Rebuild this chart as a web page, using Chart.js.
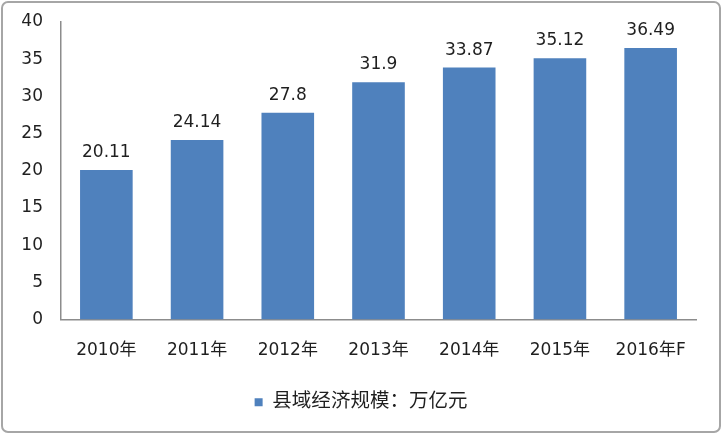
<!DOCTYPE html>
<html><head><meta charset="utf-8">
<script src="https://cdn.jsdelivr.net/npm/chart.js@4/dist/chart.umd.min.js"></script>
<style>
html,body{margin:0;padding:0;background:#fff;}
#wrap{position:relative;width:722px;height:434px;}
#frame{position:absolute;left:1px;top:1px;width:716px;height:428px;border:2px solid #a6a6a6;border-radius:7px;pointer-events:none;}
canvas{position:absolute;left:0;top:0;}
</style></head>
<body>
<div id="wrap"><canvas id="c" width="722" height="434"></canvas><div id="frame"></div></div>
<script>
const categories = ['2010年','2011年','2012年','2013年','2014年','2015年','2016年F'];
const values = [20.11, 24.14, 27.8, 31.9, 33.87, 35.12, 36.49];
const seriesName = '县域经济规模：万亿元';
const FONT = '"DejaVu Sans","Noto Sans CJK SC",sans-serif';

const valueLabels = {
  id:'valueLabels',
  afterDatasetsDraw(chart){
    const ctx = chart.ctx;
    const meta = chart.getDatasetMeta(0);
    ctx.save();
    ctx.font = '17px ' + FONT;
    ctx.fillStyle = '#1f1f1f';
    ctx.textAlign = 'center';
    ctx.textBaseline = 'bottom';
    meta.data.forEach((bar,i)=>{
      ctx.fillText(String(values[i]), bar.x, bar.y - 9);
    });
    ctx.restore();
  }
};

new Chart(document.getElementById('c'), {
  type:'bar',
  data:{labels:categories,datasets:[{label:seriesName,data:values,backgroundColor:'#4f81bd',borderWidth:0,categoryPercentage:1,barPercentage:0.58}]},
  plugins:[valueLabels],
  options:{
    responsive:false,animation:false,
    layout:{padding:{top:22,right:13,bottom:12,left:13}},
    plugins:{
      tooltip:{enabled:false},
      legend:{position:'bottom',labels:{boxWidth:8,boxHeight:8,padding:10,color:'#1f1f1f',font:{family:FONT,size:19.5}}}
    },
    scales:{
      x:{
        grid:{display:false},
        border:{display:true,color:'#8c8c8c',width:1.5},
        ticks:{color:'#1f1f1f',padding:13,maxRotation:0,font:{family:FONT,size:17}},
        afterFit(s){s.height=63;}
      },
      y:{
        min:0,max:40,
        grid:{display:false,drawTicks:false},
        border:{display:true,color:'#8c8c8c',width:1.5},
        ticks:{stepSize:5,color:'#1f1f1f',padding:18,font:{family:FONT,size:17,lineHeight:0.2}},
        afterFit(s){s.width=48;}
      },
      yR:{
        position:'right',min:0,max:40,
        grid:{display:false,drawTicks:false},
        border:{display:false},
        ticks:{display:false},
        afterFit(s){s.width=13;}
      }
    }
  }
});
</script>
</body></html>
